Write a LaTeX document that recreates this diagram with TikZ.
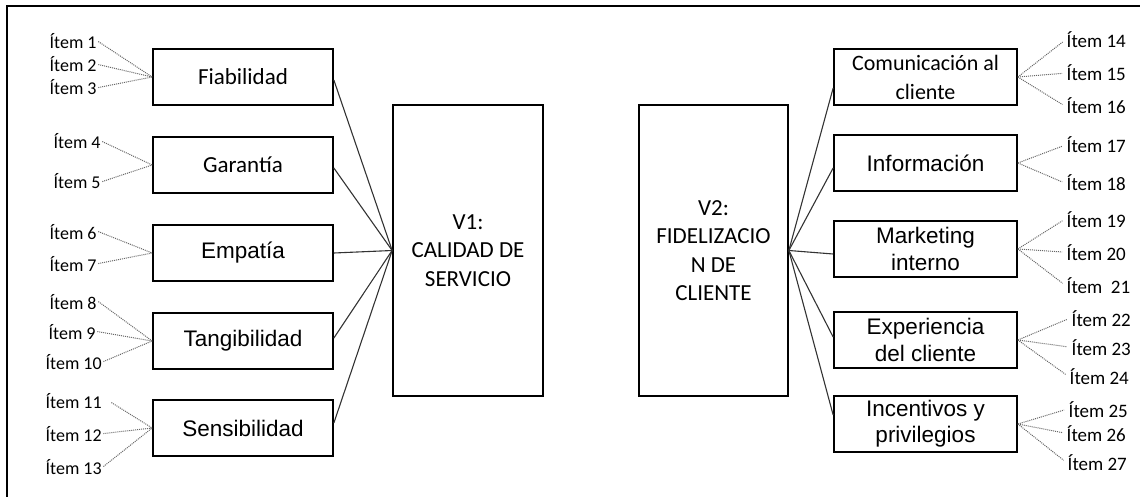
\documentclass[tikz,border=0pt]{standalone}
\usepackage{fontspec}
\setmainfont{Carlito}
\newfontfamily\arialf{Liberation Sans}
\usetikzlibrary{calc}
\begin{document}
\begin{tikzpicture}[x=1pt,y=-1pt,
  frame/.style={line width=2.6pt,black},
  box/.style={draw=black,line width=1.7pt,minimum width=180pt,minimum height=56pt,inner sep=0pt,align=center},
  rbox/.style={box,minimum width=183pt},
  calib/.style={font=\fontsize{23}{29}\selectfont},
  arial/.style={font=\arialf\fontsize{22.5}{27}\selectfont},
  vbox/.style={draw=black,line width=1.7pt,minimum width=150pt,minimum height=291pt,inner sep=0pt,align=center,font=\fontsize{23}{28.5}\selectfont},
  item/.style={font=\fontsize{18}{20}\selectfont,inner sep=1.5pt,anchor=base west},
  ritem/.style={item,font=\fontsize{19}{20}\selectfont},
  link/.style={draw=black!80,line width=1.1pt},
  dots/.style={draw=black!60,line width=1pt,dash pattern=on 1pt off 1pt},
]
\useasboundingbox (0,0) rectangle (1140,497);
\draw[frame] (7,497) -- (7,6) -- (1140,6);

% left boxes
\node[box,calib] (f) at (243,77) {Fiabilidad};
\node[box,calib] (g) at (243,165) {Garantía};
\node[box,arial] (e) at (243,253) {Empatía};
\node[box,arial] (t) at (243,341) {Tangibilidad};
\node[box,arial] (s) at (243,428) {Sensibilidad};

% variables
\node[vbox] (v1) at (468,250.5) {V1:\\CALIDAD DE\\SERVICIO};
\node[vbox,minimum width=149pt] (v2) at (713.5,250.5) {V2:\\FIDELIZACIO\\N DE\\CLIENTE};

% right boxes
\node[rbox,font=\fontsize{22}{29}\selectfont] (c1) at (925.5,77) {Comunicación al\\cliente};
\node[rbox,arial] (c2) at (925.5,163) {Información};
\node[rbox,arial] (c3) at (925.5,249) {Marketing\\interno};
\node[rbox,arial] (c4) at (925.5,340) {Experiencia\\del cliente};
\node[rbox,arial,font=\arialf\fontsize{22.5}{26}\selectfont] (c5) at (925.5,424) {Incentivos y\\privilegios};

% solid connectors
\draw[link] ($(f.east)+(0,3)$) -- (v1.west);
\draw[link] ($(g.east)+(0,3)$) -- (v1.west);
\draw[link] (e.east) -- (v1.west);
\draw[link] ($(t.east)+(0,-3)$) -- (v1.west);
\draw[link] ($(s.east)+(0,-5)$) -- (v1.west);

\draw[link] (v2.east) -- ($(c1.west)+(0,11)$);
\draw[link] (v2.east) -- ($(c2.west)+(0,5)$);
\draw[link] (v2.east) -- ($(c3.west)+(0,5)$);
\draw[link] (v2.east) -- ($(c4.west)+(0,-3)$);
\draw[link] (v2.east) -- ($(c5.west)+(0,-9)$);

% left items
\node[item] (i1) at (48,49) {Ítem 1};
\node[item] (i2) at (48,72) {Ítem 2};
\node[item] (i3) at (48,95) {Ítem 3};
\node[item] (i4) at (52,149) {Ítem 4};
\node[item] (i5) at (52,189) {Ítem 5};
\node[item] (i6) at (48,239) {Ítem 6};
\node[item] (i7) at (48,271) {Ítem 7};
\node[item] (i8) at (48,309) {Ítem 8};
\node[item] (i9) at (47,339) {Ítem 9};
\node[item] (i10) at (44,369) {Ítem 10};
\node[item] (i11) at (44,408) {Ítem 11};
\node[item] (i12) at (44,441) {Ítem 12};
\node[item] (i13) at (44,474) {Ítem 13};

\foreach \i in {1,2,3} \draw[dots] (i\i.east) -- (f.west);
\foreach \i in {4,5} \draw[dots] (i\i.east) -- (g.west);
\foreach \i in {6,7} \draw[dots] (i\i.east) -- (e.west);
\foreach \i in {8,9,10} \draw[dots] (i\i.east) -- (t.west);
\draw[dots] ($(i11.east)+(8,2)$) -- (s.west);
\foreach \i in {12,13} \draw[dots] (i\i.east) -- (s.west);

% right items
\node[ritem] (i14) at (1065,48) {Ítem 14};
\node[ritem] (i15) at (1065,81) {Ítem 15};
\node[ritem] (i16) at (1065,114) {Ítem 16};
\node[ritem] (i17) at (1065,153) {Ítem 17};
\node[ritem] (i18) at (1065,191) {Ítem 18};
\node[ritem] (i19) at (1065,227) {Ítem 19};
\node[ritem] (i20) at (1065,260) {Ítem 20};
\node[ritem] (i21) at (1065,293) {Ítem~~21};
\node[ritem] (i22) at (1070,326) {Ítem 22};
\node[ritem] (i23) at (1070,355) {Ítem 23};
\node[ritem] (i24) at (1068,384) {Ítem 24};
\node[ritem] (i25) at (1067,417) {Ítem 25};
\node[ritem] (i26) at (1065,441) {Ítem 26};
\node[ritem] (i27) at (1066,470) {Ítem 27};

\foreach \i in {14,15,16} \draw[dots,shorten >=3pt] (c1.east) -- (i\i.west);
\foreach \i in {17,18} \draw[dots,shorten >=3pt] (c2.east) -- (i\i.west);
\foreach \i in {19,20,21} \draw[dots,shorten >=3pt] (c3.east) -- (i\i.west);
\foreach \i in {22,23,24} \draw[dots,shorten >=3pt] (c4.east) -- (i\i.west);
\foreach \i in {25,26,27} \draw[dots,shorten >=3pt] (c5.east) -- (i\i.west);
\end{tikzpicture}
\end{document}
